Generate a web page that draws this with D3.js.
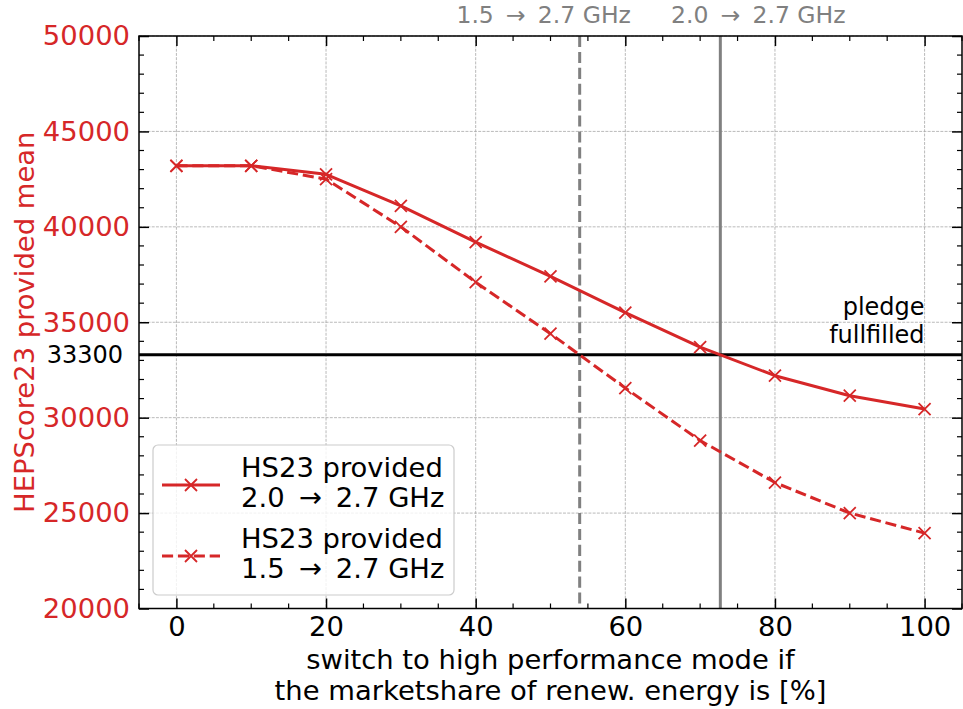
<!DOCTYPE html>
<html>
<head>
<meta charset="utf-8">
<script src="https://cdn.jsdelivr.net/npm/d3@7"></script>
<style>
  html, body { margin: 0; padding: 0; background: #fff; }
  svg { display: block; font-family: "DejaVu Sans", sans-serif; }
</style>
</head>
<body>
<svg id="chart" width="963" height="709"></svg>
<script>
// Share of renewable energy at which the switch happens [%]
const shares = [0, 10, 20, 30, 40, 50, 60, 70, 80, 90, 100];
// HS23 provided, base frequency 2.0 GHz boosted to 2.7 GHz
const hs23From20 = [43200, 43200, 42750, 41100, 39200, 37400, 35500, 33700, 32200, 31150, 30450];
// HS23 provided, base frequency 1.5 GHz boosted to 2.7 GHz
const hs23From15 = [43200, 43200, 42500, 40000, 37100, 34400, 31550, 28800, 26600, 25000, 23950];
const seriesLabels = [["HS23 provided", "2.0 \u2009\u2192\u2009 2.7 GHz"], ["HS23 provided", "1.5 \u2009\u2192\u2009 2.7 GHz"]];
// Pledge level and the shares where each scenario meets it
const pledge = 33300;
const crossings = [53.9, 72.7];
const crossingLabels = ["1.5 \u2009\u2192\u2009 2.7 GHz", "2.0 \u2009\u2192\u2009 2.7 GHz"];
const xTicks = [0, 20, 40, 60, 80, 100];
const yTicks = [20000, 25000, 30000, 35000, 40000, 45000, 50000];

(function () {
const RED = "#d62728";
const GRAY = "#808080";
const FS = 27.4;
const svg = d3.select("#chart");

const pLeft = 139, pRight = 962, pTop = 36, pBottom = 608.5;
const x = d3.scaleLinear().domain([-5, 105]).range([pLeft, pRight]);
const y = d3.scaleLinear().domain([20000, 50000]).range([pBottom, pTop]);

svg.append("defs").append("clipPath").attr("id", "plotclip")
  .append("rect").attr("x", pLeft).attr("y", pTop).attr("width", pRight - pLeft).attr("height", pBottom - pTop);

// Grid
const grid = svg.append("g").attr("stroke", "#a8a8a8").attr("stroke-width", 0.8).attr("stroke-dasharray", "2.96,1.28");
grid.selectAll("line.gx").data(xTicks).join("line").attr("class", "gx")
  .attr("x1", d => x(d)).attr("x2", d => x(d)).attr("y1", pTop).attr("y2", pBottom);
grid.selectAll("line.gy").data(yTicks).join("line").attr("class", "gy")
  .attr("x1", pLeft).attr("x2", pRight).attr("y1", d => y(d)).attr("y2", d => y(d));

const plot = svg.append("g").attr("clip-path", "url(#plotclip)");

// Crossing markers (vertical lines)
plot.selectAll("line.vline").data(crossings).join("line").attr("class", "vline")
  .attr("x1", d => x(d)).attr("x2", d => x(d)).attr("y1", pTop).attr("y2", pBottom)
  .attr("stroke", GRAY).attr("stroke-width", 3)
  .attr("stroke-dasharray", (d, i) => i === 0 ? "11.1,4.8" : null);

// Pledge line
plot.append("line").attr("x1", pLeft).attr("x2", pRight).attr("y1", y(pledge)).attr("y2", y(pledge))
  .attr("stroke", "#000").attr("stroke-width", 3);

// Series
const line = d3.line().x((d, i) => x(shares[i])).y(d => y(d));
const series = [hs23From20, hs23From15];
const dashes = [null, "11.1,4.8"];
function crossMark(g, cx, cy) {
  const s = 6;
  g.append("path").attr("d", `M${cx - s},${cy - s}L${cx + s},${cy + s}M${cx - s},${cy + s}L${cx + s},${cy - s}`)
    .attr("stroke", RED).attr("stroke-width", 1.8).attr("fill", "none");
}
series.forEach((vals, k) => {
  plot.append("path").datum(vals).attr("d", line)
    .attr("fill", "none").attr("stroke", RED).attr("stroke-width", 3)
    .attr("stroke-dasharray", dashes[k]).attr("stroke-linejoin", "round");
  const mg = plot.append("g");
  vals.forEach((v, i) => crossMark(mg, x(shares[i]), y(v)));
});

// Axes with inward ticks on all sides
const xAxisB = d3.axisBottom(x).tickValues(xTicks).tickSize(-10).tickPadding(8).tickFormat(d3.format("d"));
const xAxisT = d3.axisTop(x).tickValues(xTicks).tickSize(-10).tickFormat("");
const yAxisL = d3.axisLeft(y).tickValues(yTicks).tickSize(-10).tickPadding(9).tickFormat(d3.format("d"));
const yAxisR = d3.axisRight(y).tickValues(yTicks).tickSize(-10).tickFormat("");
const xMinor = d3.range(-5, 106, 5).filter(v => !xTicks.includes(v));
const yMinor = d3.range(20000, 50001, 1000).filter(v => !yTicks.includes(v));

function styleAxis(g) {
  g.select(".domain").remove();
  g.selectAll(".tick line").attr("stroke", "#000").attr("stroke-width", 1.5);
}
const gB = svg.append("g").attr("transform", `translate(0,${pBottom})`).call(xAxisB).call(styleAxis);
gB.selectAll("text").attr("font-size", FS).attr("fill", "#000").attr("font-family", "DejaVu Sans");
svg.append("g").attr("transform", `translate(0,${pTop})`).call(xAxisT).call(styleAxis);
const gL = svg.append("g").attr("transform", `translate(${pLeft},0)`).call(yAxisL).call(styleAxis);
gL.selectAll("text").attr("font-size", FS).attr("fill", RED).attr("font-family", "DejaVu Sans");
svg.append("g").attr("transform", `translate(${pRight},0)`).call(yAxisR).call(styleAxis);

// Minor ticks
const minor = svg.append("g").attr("stroke", "#000").attr("stroke-width", 1.2);
xMinor.forEach(v => {
  minor.append("line").attr("x1", x(v)).attr("x2", x(v)).attr("y1", pBottom).attr("y2", pBottom - 5);
  minor.append("line").attr("x1", x(v)).attr("x2", x(v)).attr("y1", pTop).attr("y2", pTop + 5);
});
yMinor.forEach(v => {
  minor.append("line").attr("x1", pLeft).attr("x2", pLeft + 5).attr("y1", y(v)).attr("y2", y(v));
  minor.append("line").attr("x1", pRight).attr("x2", pRight - 5).attr("y1", y(v)).attr("y2", y(v));
});

// Frame
svg.append("rect").attr("x", pLeft).attr("y", pTop).attr("width", pRight - pLeft).attr("height", pBottom - pTop)
  .attr("fill", "none").attr("stroke", "#000").attr("stroke-width", 1.5);

// Pledge annotations
svg.append("text").attr("x", pLeft - 16).attr("y", y(pledge) + 8).attr("text-anchor", "end")
  .attr("font-size", 24).attr("fill", "#000").text(d3.format("d")(pledge));
const pl = svg.append("text").attr("text-anchor", "end").attr("font-size", 24).attr("fill", "#000");
pl.append("tspan").attr("x", x(100)).attr("y", 315).text("pledge");
pl.append("tspan").attr("x", x(100)).attr("y", 343).text("fullfilled");

// Crossing labels above the frame
const labelOffsets = [-36, 38];
crossings.forEach((c, i) => {
  svg.append("text").attr("x", x(c) + labelOffsets[i]).attr("y", 23).attr("text-anchor", "middle")
    .attr("font-size", 23.5).attr("fill", GRAY).text(crossingLabels[i]);
});

// Axis titles
const xt = svg.append("text").attr("text-anchor", "middle").attr("font-size", FS).attr("fill", "#000");
xt.append("tspan").attr("x", (pLeft + pRight) / 2).attr("y", 669).text("switch to high performance mode if");
xt.append("tspan").attr("x", (pLeft + pRight) / 2).attr("y", 700).text("the marketshare of renew. energy is [%]");
svg.append("text").attr("transform", `translate(34,${(pTop + pBottom) / 2}) rotate(-90)`)
  .attr("text-anchor", "middle").attr("font-size", FS).attr("fill", RED).text("HEPScore23 provided mean");

// Legend
const lg = svg.append("g");
lg.append("rect").attr("x", 153).attr("y", 445).attr("width", 301).attr("height", 150).attr("rx", 5)
  .attr("fill", "#fff").attr("fill-opacity", 0.8).attr("stroke", "#cccccc").attr("stroke-width", 1.2);
const rowY = [485, 556];
seriesLabels.forEach((lab, k) => {
  lg.append("line").attr("x1", 162).attr("x2", 220).attr("y1", rowY[k]).attr("y2", rowY[k])
    .attr("stroke", RED).attr("stroke-width", 3).attr("stroke-dasharray", dashes[k]);
  crossMark(lg, 191, rowY[k]);
  const t = lg.append("text").attr("font-size", FS).attr("fill", "#000");
  t.append("tspan").attr("x", 241).attr("y", rowY[k] - 8).text(lab[0]);
  t.append("tspan").attr("x", 241).attr("y", rowY[k] + 22).text(lab[1]);
});
})();
</script>
</body>
</html>
